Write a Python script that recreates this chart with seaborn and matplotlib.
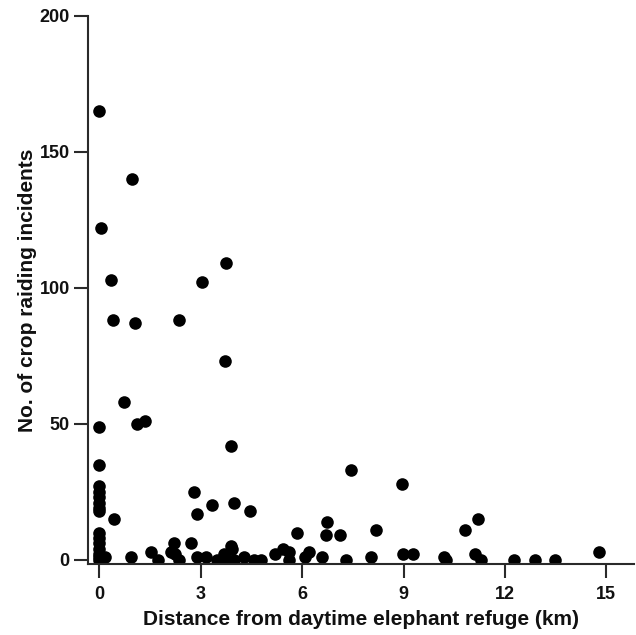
import matplotlib
matplotlib.use("Agg")
import matplotlib.pyplot as plt
import seaborn as sns
import pandas as pd

# Distance from daytime elephant refuge (km)
distance_km = [
    0.00, 0.98, 0.04, 0.35, 0.41, 1.05, 2.35, 3.03, 3.74, 3.73,
    0.72, 0.00, 1.13, 1.35, 0.00,
    0.00, 0.00, 0.00, 0.00, 0.00, 0.00,
    0.43, 3.89, 3.99, 4.47, 2.80, 2.88, 3.33,
    0.00, 0.00, 0.00, 0.00, 0.00, 0.00, 0.00,
    0.17, 0.94, 1.53, 1.73, 2.20, 2.12, 2.25, 2.35, 2.70,
    2.88, 3.15, 3.47, 3.69, 3.89, 3.94, 3.79, 3.99,
    4.29, 4.59, 4.79, 5.20, 5.44, 5.62, 5.62, 5.84,
    6.10, 6.19, 6.58, 6.74, 6.70, 7.12, 7.30, 7.44,
    8.05, 8.20, 8.96, 8.99, 9.29, 10.20, 10.25,
    10.82, 11.20, 11.10, 11.30, 12.27, 12.88, 13.47, 14.79,
]
# No. of crop raiding incidents
incidents = [
    165, 140, 122, 103, 88, 87, 88, 102, 109, 73,
    58, 49, 50, 51, 35,
    27, 25, 23, 21, 19, 18,
    15, 42, 21, 18, 25, 17, 20,
    10, 8, 6, 4, 2, 1, 0,
    1, 1, 3, 0, 6, 3, 2, 0, 6,
    1, 1, 0, 2, 5, 4, 0, 0,
    1, 0, 0, 2, 4, 3, 0, 10,
    1, 3, 1, 14, 9, 9, 0, 33,
    1, 11, 28, 2, 2, 1, 0,
    11, 15, 2, 0, 0, 0, 0, 3,
]

df = pd.DataFrame({"distance": distance_km, "incidents": incidents})

sns.set_theme(style="ticks")
plt.rcParams["font.family"] = ["Liberation Sans", "DejaVu Sans"]
plt.rcParams["font.weight"] = "bold"

fig = plt.figure(figsize=(6.36, 6.35), dpi=100)
ax = fig.add_axes([0.138, 0.112, 0.859, 0.863])

sns.scatterplot(data=df, x="distance", y="incidents", ax=ax,
                color="black", s=82, edgecolor="black", linewidth=0, legend=False)

ax.set_xlim(-0.34, 15.82)
ax.set_ylim(-1.5, 200)
ax.set_xticks([0, 3, 6, 9, 12, 15])
ax.set_yticks([0, 50, 100, 150, 200])

ax.spines["top"].set_visible(False)
ax.spines["right"].set_visible(False)
for sp in ("left", "bottom"):
    ax.spines[sp].set_linewidth(1.5)
    ax.spines[sp].set_color("#2a2a2a")

ax.tick_params(axis="both", direction="out", length=10, width=1.5,
               color="#2a2a2a", labelsize=13, labelcolor="#111111")
ax.tick_params(axis="x", pad=6)
ax.tick_params(axis="y", pad=3)
for lab in ax.get_xticklabels() + ax.get_yticklabels():
    lab.set_fontweight("bold")

ax.set_xlabel("Distance from daytime elephant refuge (km)", fontsize=15,
              fontweight="bold", labelpad=5, color="#111111")
ax.set_ylabel("No. of crop raiding incidents", fontsize=15,
              fontweight="bold", labelpad=2, color="#111111")

fig.savefig("out.png", dpi=100)
